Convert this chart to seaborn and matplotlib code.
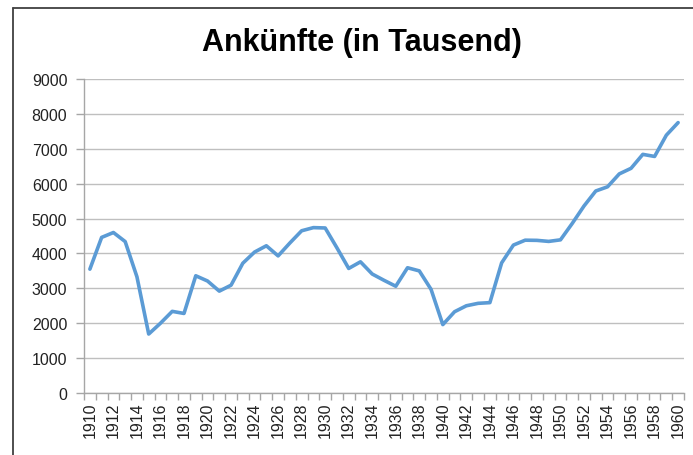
import matplotlib
matplotlib.use("Agg")
import matplotlib.pyplot as plt
import seaborn as sns
import pandas as pd
import numpy as np
from matplotlib.lines import Line2D
from matplotlib.ticker import MultipleLocator, FixedLocator

years = list(range(1910, 1961))
arrivals = [3550, 4460, 4600, 4340, 3330, 1690, 2000, 2340, 2280, 3360,
            3210, 2920, 3090, 3720, 4040, 4220, 3930, 4300, 4650, 4740,
            4730, 4160, 3570, 3760, 3410, 3230, 3060, 3590, 3500, 2970,
            1960, 2330, 2500, 2570, 2590, 3730, 4240, 4380, 4375, 4345,
            4390, 4860, 5360, 5790, 5910, 6280, 6440, 6840, 6780, 7390,
            7750]
title = "Ankünfte (in Tausend)"

df = pd.DataFrame({"Jahr": years, "Ankünfte": arrivals})

sns.set_theme(style="white")
plt.rcParams['font.family'] = ['Liberation Sans', 'DejaVu Sans']

W, H = 693, 456
fig = plt.figure(figsize=(W / 100, H / 100), dpi=100)
ax = fig.add_axes([84 / W, (H - 394) / H, 600 / W, (394 - 80) / H])

sns.lineplot(data=df, x="Jahr", y="Ankünfte", ax=ax, color="#5B9BD5",
             linewidth=2.6, zorder=3)

ax.set_xlim(years[0] - 0.5, years[-1] + 0.5)
ax.set_ylim(0, 9000)
ax.yaxis.set_major_locator(MultipleLocator(1000))
ax.set_yticklabels([str(int(v)) for v in ax.get_yticks()])
ax.set_xticks(years[::2])
ax.set_xticklabels([str(y) for y in years[::2]], rotation=90)
ax.xaxis.set_minor_locator(FixedLocator(np.arange(years[0] - 0.5, years[-1] + 1.0, 1.0)))

ax.grid(axis="y", color="#BFBFBF", linewidth=1.0)
ax.set_axisbelow(True)
for s in ["top", "right"]:
    ax.spines[s].set_visible(False)
for s in ["left", "bottom"]:
    ax.spines[s].set_color("#A6A6A6")
    ax.spines[s].set_linewidth(1.0)

ax.tick_params(axis="y", which="major", left=True, length=6, width=1,
               color="#A6A6A6", labelsize=11.5, labelcolor="#222222", pad=6)
ax.tick_params(axis="x", which="major", bottom=True, length=0,
               labelsize=11.5, labelcolor="#222222", pad=6)
ax.tick_params(axis="x", which="minor", bottom=True, length=5, width=1,
               color="#A6A6A6")
ax.set_xlabel("")
ax.set_ylabel("")

fig.text(362 / W, 1 - 43 / H, title, ha="center", va="center",
         fontsize=22, fontweight="bold", color="#000000")

# outer chart frame (partially visible)
fig.add_artist(Line2D([13 / W, 13 / W], [0, 1 - 9 / H], transform=fig.transFigure,
                      color="#404040", linewidth=1.3))
fig.add_artist(Line2D([13 / W, 1], [1 - 9 / H, 1 - 9 / H], transform=fig.transFigure,
                      color="#404040", linewidth=1.3))

fig.savefig("out.png", dpi=100)
